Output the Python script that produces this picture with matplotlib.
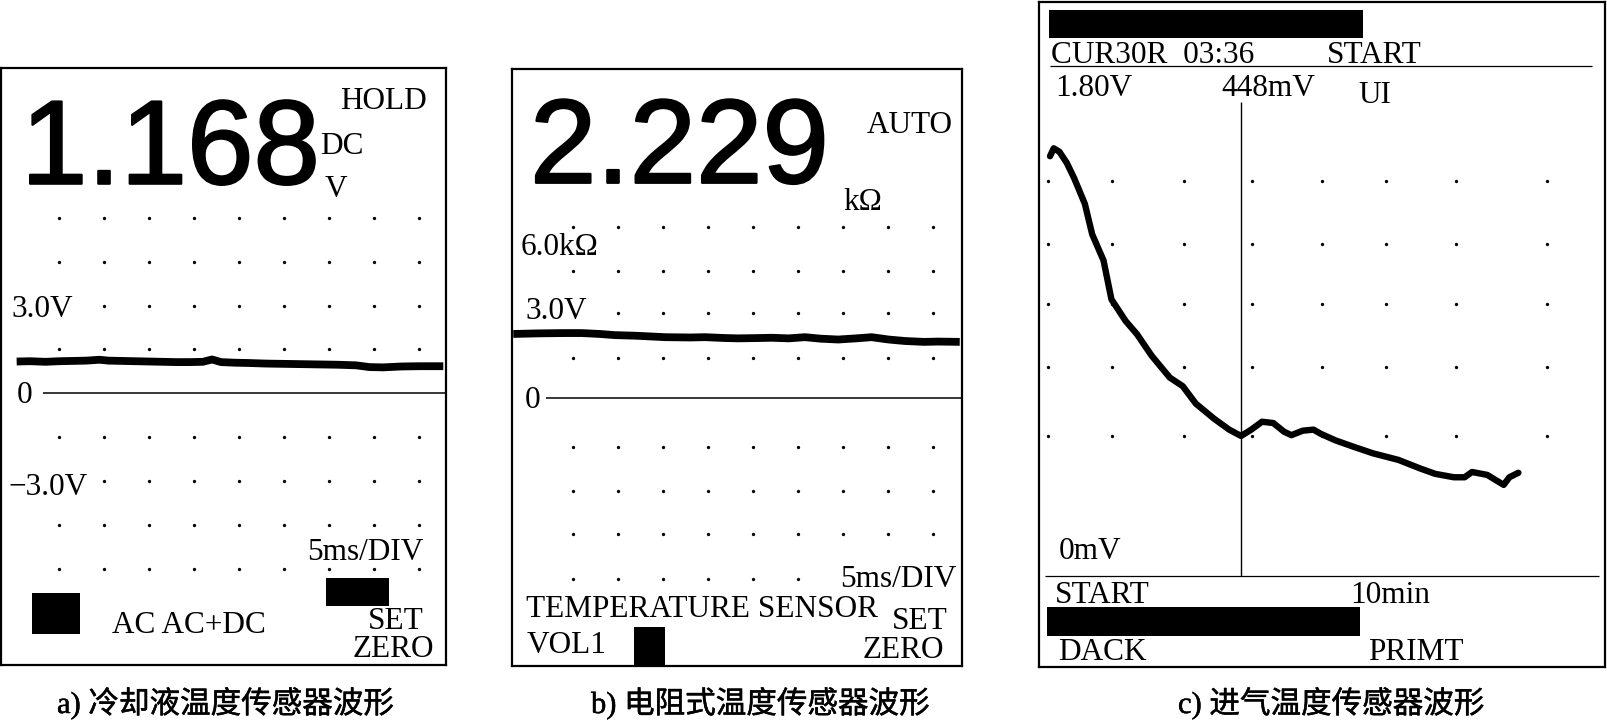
import matplotlib.pyplot as plt
from matplotlib.patches import Rectangle
import matplotlib.patheffects as pe

plt.rcParams['font.family'] = ['Liberation Serif', 'Noto Sans CJK SC']

W, H = 1608, 721

# grid of the scope screens (a, b): 5 ms/div, 1.5 V/div
grid_cols_ms = [5, 10, 15, 20, 25, 30, 35, 40, 45]
a_grid_rows = [6.0, 4.5, 3.0, 1.5, -1.5, -3.0, -4.5, -6.0]
b_grid_rows = [5.85, 4.35, 2.93, 1.39, -1.65, -3.15, -4.62, -6.14]

# a) coolant temperature sensor trace
a_time_ms = [0.3, 1.8, 3.5, 5.0, 6.5, 8.0, 9.5, 10.5, 12.0, 13.5, 15.0, 16.5, 18.0, 19.5, 21.0,
             22.0, 23.0, 24.5, 26.0, 28.0, 30.0, 32.0, 34.0, 36.0, 38.0, 39.5, 41.0, 43.0, 45.0, 47.7]
a_volts = [1.09, 1.10, 1.08, 1.10, 1.11, 1.12, 1.15, 1.12, 1.11, 1.10, 1.09, 1.08, 1.07, 1.07, 1.08,
           1.16, 1.07, 1.05, 1.04, 1.02, 1.01, 1.00, 0.99, 0.98, 0.96, 0.90, 0.89, 0.92, 0.93, 0.93]

# b) resistive temperature sensor trace
b_time_ms = [-1.6, 1.2, 4.0, 6.0, 8.0, 9.7, 12.0, 15.3, 18.0, 19.7, 22.0, 23.4, 25.5, 27.1, 29.0,
             30.8, 32.5, 34.5, 36.5, 38.2, 40.1, 41.9, 44.0, 45.6, 48.0]
b_volts = [2.20, 2.22, 2.23, 2.23, 2.20, 2.16, 2.14, 2.09, 2.08, 2.09, 2.06, 2.05, 2.06, 2.07, 2.05,
           2.09, 2.04, 2.01, 2.05, 2.09, 2.01, 1.96, 1.93, 1.94, 1.93]

# c) intake air temperature sensor, 10 min record
c_grid_cols_min = [0.16, 1.29, 2.56, 3.77, 5.0, 6.13, 7.37, 8.98]
c_grid_rows_mv = [1500, 1260, 1032, 792, 531]
c_time_min = [0.195, 0.26, 0.36, 0.49, 0.62, 0.81, 0.94, 1.14, 1.28, 1.53, 1.73, 1.99, 2.31, 2.54,
              2.77, 3.09, 3.36, 3.57, 3.75, 3.94, 4.14, 4.33, 4.46, 4.66, 4.85, 4.98, 5.24, 5.57,
              5.90, 6.35, 6.74, 7.00, 7.33, 7.52, 7.65, 7.92, 8.11, 8.21, 8.31, 8.47]
c_mv = [1594, 1624, 1611, 1569, 1511, 1413, 1297, 1198, 1050, 968, 918, 836, 753, 720,
        654, 597, 555, 531, 555, 585, 580, 547, 534, 551, 555, 539, 514, 489,
        465, 440, 407, 387, 374, 374, 394, 383, 358, 345, 374, 391]
c_cursor_min = 3.57


def box(x0, y0, x1, y1):
    return [x0 / W, 1 - y1 / H, (x1 - x0) / W, (y1 - y0) / H]


def txt(x, y, s, size=22.5, **kw):
    fig.text(x / W, 1 - y / H, s, fontsize=size, va='baseline', **kw)


def bar(x0, y0, x1, y1):
    fig.add_artist(Rectangle((x0 / W, 1 - y1 / H), (x1 - x0) / W, (y1 - y0) / H,
                             transform=fig.transFigure, color='black', lw=0))


def screen(rect):
    ax = fig.add_axes(rect)
    ax.set_xticks([])
    ax.set_yticks([])
    for s in ax.spines.values():
        s.set_linewidth(1.6)
    return ax


fig = plt.figure(figsize=(W / 100, H / 100), dpi=100)

white = dict(facecolor='white', edgecolor='none', pad=1)
heavy = [pe.withStroke(linewidth=1.6, foreground='black')]
ink = [pe.withStroke(linewidth=0.35, foreground='black')]

# ---- a)
axa = screen(box(1, 68, 446, 665))
axa.set_xlim(-1.44, 48.0)
axa.set_ylim(-9.26, 11.10)
for r in a_grid_rows:
    axa.plot(grid_cols_ms, [r] * len(grid_cols_ms), 'o', ms=2.4, color='black', mec='none')
axa.hlines(0, 3.26, 48.0, color='black', lw=1.1)
axa.plot(a_time_ms, a_volts, color='black', lw=5.6, solid_capstyle='butt', solid_joinstyle='round')

txt(21, 183.7, '1.168', size=86, family='Liberation Sans', path_effects=heavy)
txt(340, 108.7, 'HOLD')
txt(320, 153.7, 'DC')
txt(325, 197, 'V')
txt(11, 317.4, '3.0V', bbox=white)
txt(17, 402.6, '0')
txt(8, 494.8, '\u22123.0V', bbox=white)
txt(307, 560, '5ms/DIV')
txt(112, 633, 'AC AC+DC')
txt(368, 629, 'SET')
txt(353, 657, 'ZERO')
bar(31.7, 592.7, 80, 634)
bar(326, 577.7, 389, 605.7)

# ---- b)
axb = screen(box(512.5, 68.5, 962, 666))
axb.set_xlim(-1.69, 48.25)
axb.set_ylim(-9.12, 11.25)
for r in b_grid_rows:
    axb.plot(grid_cols_ms, [r] * len(grid_cols_ms), 'o', ms=2.4, color='black', mec='none')
axb.hlines(0, 2.0, 48.25, color='black', lw=1.1)
axb.plot(b_time_ms, b_volts, color='black', lw=5.6, solid_capstyle='butt', solid_joinstyle='round')

txt(530, 182.8, '2.229', size=86, family='Liberation Sans', path_effects=heavy)
txt(867, 133.3, 'AUTO')
txt(843, 209.7, 'k\u03a9')
txt(521, 255, '6.0k\u03a9')
txt(525.7, 319, '3.0V', bbox=white)
txt(525, 408, '0')
txt(840, 587, '5ms/DIV', bbox=white)
txt(525.7, 616.7, 'TEMPERATURE SENSOR')
txt(891.7, 629, 'SET')
txt(863, 658, 'ZERO')
txt(526.7, 653, 'VOL1')
bar(634, 627, 665, 666)

# ---- c)
axc = screen(box(1039, 2, 1605, 667))
axc.set_xlim(0, 10)
axc.set_ylim(-347, 2180)
for r in c_grid_rows_mv:
    axc.plot(c_grid_cols_min, [r] * len(c_grid_cols_min), 'o', ms=2.4, color='black', mec='none')
axc.hlines(1938, 0.19, 9.77, color='black', lw=0.9)
axc.hlines(0, 0.10, 9.89, color='black', lw=0.9)
axc.vlines(c_cursor_min, 0, 1800, color='black', lw=1.0)
axc.plot(c_time_min, c_mv, color='black', lw=4.6, solid_capstyle='round', solid_joinstyle='round')

bar(1049, 9.5, 1363, 38)
txt(1051, 63, 'CUR30R  03:36')
txt(1327, 63, 'START')
txt(1055.6, 96.3, '1.80V')
txt(1221.5, 96, '448mV')
txt(1358, 103, 'UI')
txt(1058.5, 558.8, '0mV')
txt(1055, 603, 'START')
txt(1350.6, 603, '10min')
bar(1047, 607, 1360, 636)
txt(1058.5, 660, 'DACK')
txt(1368, 660, 'PRIMT')

# captions
txt(57, 713, 'a) 冷却液温度传感器波形', size=22, path_effects=ink)
txt(591, 713, 'b) 电阻式温度传感器波形', size=22, path_effects=ink)
txt(1178, 713, 'c) 进气温度传感器波形', size=22, path_effects=ink)

fig.savefig('out.png', dpi=100)
